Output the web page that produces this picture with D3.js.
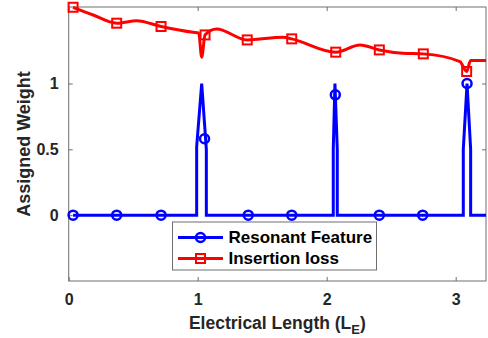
<!DOCTYPE html>
<html>
<head>
<meta charset="utf-8">
<script src="https://cdn.jsdelivr.net/npm/d3@7"></script>
<style>
  html, body { margin: 0; padding: 0; background: #fff; }
  svg { display: block; }
  text { font-family: "Liberation Sans", Arial, Helvetica, sans-serif; font-weight: bold; }
</style>
</head>
<body>
<svg id="chart" width="488" height="338"></svg>
<script>
// Resonant feature weight along the line
const resX = [0.034, 0.992, 0.992, 1.031, 1.067, 1.067, 2.051, 2.051, 2.064, 2.082, 2.082, 3.059, 3.059, 3.088, 3.116, 3.116, 3.235];
const resY = [0, 0, 0.52, 1.0, 0.5, 0, 0, 0.5, 1.0, 0.5, 0, 0, 0.5, 1.0, 0.5, 0, 0];
const resMarkX = [0.034, 0.372, 0.716, 1.053, 1.392, 1.729, 2.067, 2.408, 2.744, 3.088];
const resMarkY = [0, 0, 0, 0.58, 0, 0, 0.914, 0, 0, 1.0];

// Insertion loss (scaled) along the line
const ilX = [0.034, 0.19, 0.372, 0.527, 0.716, 0.964, 1.008, 1.031, 1.057, 1.147, 1.384, 1.661, 1.729, 2.070, 2.258, 2.408, 2.591, 2.749, 3.033, 3.085, 3.115, 3.235];
const ilY = [1.579, 1.52, 1.458, 1.477, 1.433, 1.389, 1.384, 1.20, 1.369, 1.414, 1.331, 1.352, 1.339, 1.238, 1.293, 1.255, 1.230, 1.225, 1.167, 1.091, 1.174, 1.174];
const ilMarkIdx = [0, 2, 4, 8, 10, 12, 13, 15, 17, 19];

const xTicks = [0, 1, 2, 3];
const yTicks = [0, 0.5, 1];
const xDomain = [0, 3.235];
const yDomain = [-0.5, 1.581];

const legendLabels = ["Resonant Feature", "Insertion loss"];
const xLabel = "Electrical Length (L";
const xLabelSub = "E";
const yLabel = "Assigned Weight";

const blue = "#0000ff", red = "#ff0000";
const L = 68.7, R = 486, T = 7, B = 281;

const svg = d3.select("#chart");
const x = d3.scaleLinear().domain(xDomain).range([L, R]);
const y = d3.scaleLinear().domain(yDomain).range([B, T]);

const axisColor = "#6e6e6e";
const textColor = "#262626";

// axes box
svg.append("rect").attr("x", L).attr("y", T).attr("width", R - L).attr("height", B - T)
  .attr("fill", "none").attr("stroke", axisColor).attr("stroke-width", 1);

// ticks (inward, on all four sides)
const gx = svg.append("g").attr("transform", `translate(0,${B})`)
  .call(d3.axisBottom(x).tickValues(xTicks).tickSize(-4).tickPadding(14).tickFormat(d3.format("d")));
const gxt = svg.append("g").attr("transform", `translate(0,${T})`)
  .call(d3.axisTop(x).tickValues(xTicks).tickSize(-4).tickFormat(""));
const gy = svg.append("g").attr("transform", `translate(${L},0)`)
  .call(d3.axisLeft(y).tickValues(yTicks).tickSize(-4).tickPadding(10).tickFormat(d => d === 0.5 ? "0.5" : d3.format("d")(d)));
const gyr = svg.append("g").attr("transform", `translate(${R},0)`)
  .call(d3.axisRight(y).tickValues(yTicks).tickSize(-4).tickFormat(""));
[gx, gxt, gy, gyr].forEach(g => {
  g.select(".domain").remove();
  g.selectAll(".tick line").attr("stroke", axisColor);
  g.selectAll(".tick text").attr("fill", textColor).style("font-size", "16px")
    .style("font-family", '"Liberation Sans", Arial, sans-serif').style("font-weight", "bold");
});
gx.selectAll(".tick text").attr("dy", "0.71em").attr("y", 13);

// axis labels
const xl = svg.append("text").attr("x", (L + R) / 2).attr("y", 329).attr("text-anchor", "middle")
  .attr("fill", textColor).style("font-size", "17.5px");
xl.append("tspan").text(xLabel);
xl.append("tspan").attr("dy", 5).style("font-size", "13px").text(xLabelSub);
xl.append("tspan").attr("dy", -5).text(")");

svg.append("text").attr("transform", `translate(30,${(T + B) / 2}) rotate(-90)`)
  .attr("text-anchor", "middle").attr("fill", textColor).style("font-size", "18px").text(yLabel);

// series
const resData = resX.map((v, i) => [v, resY[i]]);
const ilData = ilX.map((v, i) => [v, ilY[i]]);

svg.append("path").datum(ilData)
  .attr("d", d3.line().x(d => x(d[0])).y(d => y(d[1])).curve(d3.curveMonotoneX))
  .attr("fill", "none").attr("stroke", red).attr("stroke-width", 3).attr("stroke-linejoin", "round");

svg.append("path").datum(resData)
  .attr("d", d3.line().x(d => x(d[0])).y(d => y(d[1])))
  .attr("fill", "none").attr("stroke", blue).attr("stroke-width", 3).attr("stroke-linejoin", "miter");

svg.append("g").selectAll("rect").data(ilMarkIdx).join("rect")
  .attr("x", i => x(ilX[i]) - 4.5).attr("y", i => y(ilY[i]) - 4.5)
  .attr("width", 9).attr("height", 9)
  .attr("fill", "none").attr("stroke", red).attr("stroke-width", 2);

svg.append("g").selectAll("circle").data(resMarkX).join("circle")
  .attr("cx", (d) => x(d)).attr("cy", (d, i) => y(resMarkY[i])).attr("r", 4.5)
  .attr("fill", "none").attr("stroke", blue).attr("stroke-width", 2.5);

// legend
const lg = svg.append("g");
lg.append("rect").attr("x", 172.5).attr("y", 222).attr("width", 204).attr("height", 48)
  .attr("fill", "#fff").attr("stroke", axisColor).attr("stroke-width", 1);
const rows = [237.5, 258.5];
legendLabels.forEach((lab, i) => {
  const c = i === 0 ? blue : red;
  lg.append("line").attr("x1", 178).attr("x2", 223).attr("y1", rows[i]).attr("y2", rows[i])
    .attr("stroke", c).attr("stroke-width", 3);
  if (i === 0) {
    lg.append("circle").attr("cx", 200.5).attr("cy", rows[i]).attr("r", 4.5)
      .attr("fill", "none").attr("stroke", c).attr("stroke-width", 2.5);
  } else {
    lg.append("rect").attr("x", 196).attr("y", rows[i] - 4.5).attr("width", 9).attr("height", 9)
      .attr("fill", "none").attr("stroke", c).attr("stroke-width", 2);
  }
  lg.append("text").attr("x", 228.5).attr("y", rows[i]).attr("dy", "0.35em")
    .attr("fill", "#000").style("font-size", "17px").text(lab);
});
</script>
</body>
</html>
